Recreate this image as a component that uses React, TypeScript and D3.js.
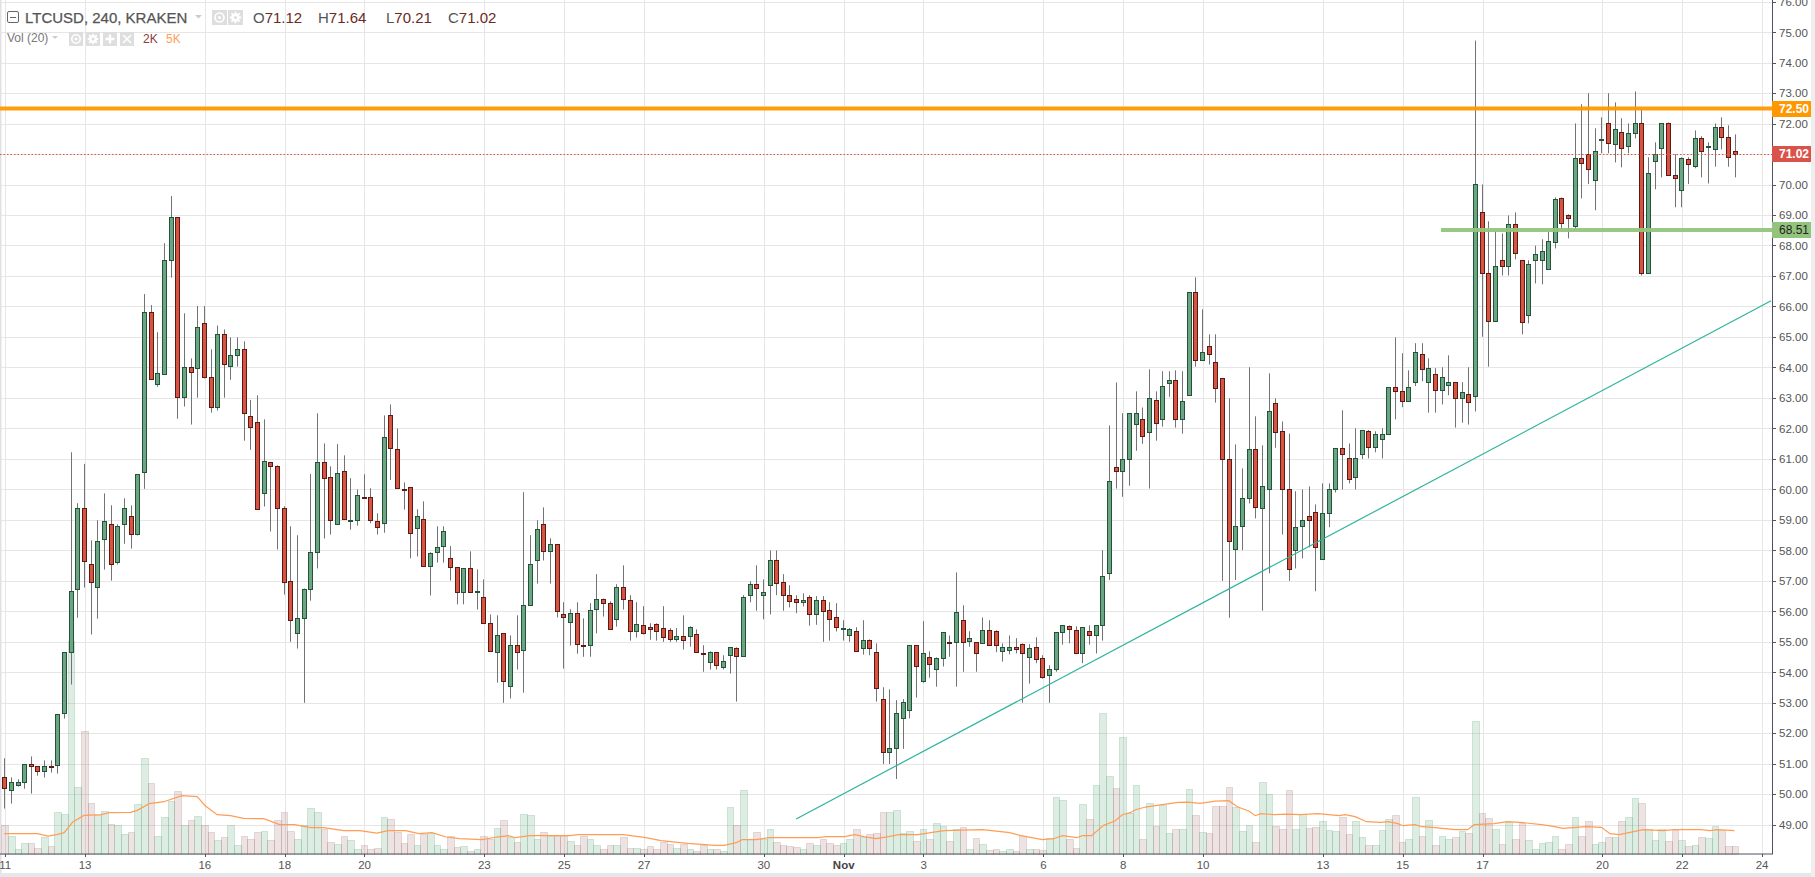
import React from 'react';
import * as d3 from 'd3';

// Candle bodies, wicks and direction (price in USD), one entry per 4h bar.
const bodyTops = [
50.55,50.39,50.39,50.98,50.98,50.92,50.92,50.92,52.62,54.66,
56.66,59.38,59.38,57.54,58.30,58.96,58.86,58.79,59.38,59.12,
60.50,65.81,65.81,63.81,67.52,68.93,68.93,64.01,64.01,65.32,
65.45,63.68,65.09,65.09,64.40,64.60,64.60,62.40,62.20,60.92,
60.89,60.76,59.38,56.99,55.77,56.75,57.94,60.89,60.89,60.40,
60.53,60.60,59.01,59.81,59.76,59.74,58.95,61.71,62.43,61.32,
60.02,60.07,59.12,59.02,57.90,58.10,58.63,57.74,57.45,57.41,
57.41,56.68,56.46,55.61,55.21,55.28,54.89,54.89,56.20,57.54,
58.69,58.86,58.20,58.20,55.90,55.94,55.94,54.90,56.03,56.40,
56.40,56.27,56.79,56.79,56.36,55.58,55.54,55.48,55.58,55.45,
55.38,55.18,55.18,55.48,55.25,54.64,54.66,54.66,54.36,54.82,
54.79,56.46,56.89,56.89,56.63,57.68,57.68,56.95,56.53,56.40,
56.36,56.46,56.36,56.36,56.03,55.80,55.45,55.41,55.35,55.05,
55.05,54.66,53.11,51.51,52.65,53.02,54.89,54.89,54.62,54.51,
54.46,55.31,54.99,55.97,55.71,55.12,54.98,55.38,55.38,55.35,
54.82,54.82,54.82,54.92,54.79,54.82,54.46,54.10,55.31,55.54,
55.51,55.38,55.48,55.35,55.54,57.15,60.27,60.73,60.99,62.50,
62.50,62.30,62.99,62.92,63.38,63.58,63.58,62.89,66.47,66.47,
64.50,64.70,64.17,63.65,60.99,58.79,59.71,61.32,61.32,60.10,
62.56,62.83,61.91,60.00,58.76,58.99,59.12,59.25,59.22,60.00,
61.35,61.35,61.02,61.02,61.94,61.91,61.81,61.81,63.35,63.35,
63.22,63.35,64.50,64.43,63.98,63.78,63.68,63.52,63.52,63.19,
63.12,70.01,69.12,67.09,67.32,67.52,68.70,68.70,67.52,67.39,
67.71,67.81,68.14,69.52,69.58,68.99,70.86,70.86,71.00,71.09,
71.50,72.01,71.82,71.72,71.68,72.01,72.01,70.37,71.00,72.01,
72.01,70.31,70.86,70.83,71.52,71.52,71.28,71.88,71.88,71.55,71.12];

const bodyBottoms = [
50.22,50.13,50.30,50.39,50.92,50.75,50.75,50.90,50.95,52.65,
54.66,56.72,57.64,56.95,56.79,58.36,57.54,57.61,58.86,58.53,
58.53,60.56,63.61,63.45,63.78,67.52,63.02,63.02,63.84,63.97,
63.68,62.70,62.70,64.11,64.04,64.40,62.50,62.04,59.35,59.87,
60.76,59.38,56.97,55.71,55.30,55.77,56.75,57.94,60.37,58.99,
58.86,59.02,58.99,58.99,59.72,58.99,58.76,58.89,61.35,60.04,
59.98,58.56,58.73,57.48,57.48,57.94,58.14,57.45,56.63,56.63,
56.63,56.66,55.61,54.69,54.66,53.71,53.54,54.66,54.72,56.20,
57.68,57.97,57.97,56.00,55.80,55.64,54.92,54.88,54.89,56.07,
56.27,55.41,55.74,56.40,55.35,55.35,55.28,55.41,55.35,55.15,
55.09,55.09,55.05,55.18,54.66,54.63,54.33,54.23,54.17,54.56,
54.53,54.53,56.53,56.76,56.53,56.86,56.92,56.53,56.33,56.30,
56.30,55.90,55.90,56.00,55.74,55.48,55.44,55.21,54.69,54.79,
54.79,53.48,51.38,51.38,51.51,52.49,52.75,54.20,53.70,54.26,
54.10,54.46,54.98,54.98,54.98,55.02,54.62,54.95,54.89,54.89,
54.69,54.72,54.75,54.62,54.49,54.43,53.86,53.90,54.10,55.31,
55.41,54.62,54.62,55.21,55.21,55.54,57.25,60.59,60.59,60.99,
62.14,61.74,61.87,62.17,62.30,63.48,62.30,62.30,63.09,64.24,
64.24,64.43,63.32,60.99,58.30,58.04,58.79,59.71,59.41,59.38,
60.00,61.87,60.00,57.38,58.00,58.79,58.99,58.10,57.71,59.22,
60.00,61.15,60.35,60.40,61.15,61.38,61.38,61.65,61.81,63.22,
62.89,62.89,63.52,63.94,63.52,63.25,63.25,63.42,62.99,62.99,
62.86,63.06,67.09,65.52,65.52,67.32,67.32,67.75,65.48,65.71,
67.52,67.52,67.25,68.11,68.73,68.90,68.63,70.70,70.50,70.17,
71.49,71.36,71.32,71.22,71.26,71.68,67.09,67.09,70.77,71.19,
70.31,70.21,69.81,70.67,70.63,71.09,71.26,71.16,71.55,70.90,71.02];

const highs = [
51.18,50.55,50.49,50.98,51.24,50.92,51.11,51.11,52.62,54.66,
61.22,59.55,60.84,58.33,58.99,59.87,59.48,58.86,59.71,59.48,
60.50,66.41,66.05,65.16,68.08,69.63,68.93,65.78,64.30,66.02,
66.02,64.60,65.38,65.25,64.99,64.99,64.86,62.94,63.09,62.30,
60.89,60.79,59.45,58.79,58.50,56.75,60.51,62.50,61.51,60.76,
61.49,61.12,60.37,60.00,60.50,60.04,59.22,62.43,62.79,62.00,
60.23,60.07,59.35,59.61,57.94,58.79,58.79,58.14,57.45,57.41,
57.97,57.38,57.05,55.90,55.87,55.28,55.21,55.87,59.91,58.50,
58.99,59.41,58.40,58.20,56.30,56.07,56.30,55.77,56.27,57.22,
56.42,56.33,56.89,57.51,56.53,56.30,56.17,55.61,55.61,56.17,
55.45,55.45,55.87,55.51,55.41,54.89,54.69,54.66,54.56,54.82,
54.82,56.53,56.99,57.51,57.05,58.00,58.00,57.22,56.86,56.53,
56.59,56.53,56.50,56.50,56.30,56.27,55.71,55.45,55.48,55.71,
55.08,54.95,53.51,53.44,53.09,53.12,54.89,54.89,55.68,54.69,
54.49,55.31,55.21,57.28,56.20,55.35,54.98,55.80,55.71,55.38,
54.95,55.21,55.12,54.95,54.92,55.15,54.56,54.23,55.31,55.54,
55.54,55.51,55.48,55.54,55.54,58.01,62.10,63.51,62.50,62.50,
63.22,62.69,63.94,63.22,63.88,63.88,63.91,63.88,66.47,66.96,
65.91,65.09,65.09,63.65,62.99,61.48,60.69,64.01,62.40,61.45,
63.81,62.99,62.23,61.83,59.94,60.00,60.10,59.51,60.20,60.20,
61.35,62.60,61.51,62.01,61.94,61.95,61.91,62.01,63.35,64.99,
64.47,63.91,64.80,64.80,64.30,63.98,64.01,64.40,63.52,63.52,
64.01,74.73,70.01,68.80,68.50,68.40,68.99,69.09,67.52,67.52,
68.00,68.21,68.50,69.58,69.58,69.03,72.01,72.64,73.00,71.85,
72.21,73.00,72.70,72.18,72.01,73.06,72.50,70.90,71.39,72.01,
72.04,71.00,70.90,70.90,71.78,71.59,71.39,72.01,72.21,71.95,71.65];

const lows = [
49.53,49.69,50.25,50.18,50.02,50.61,50.55,50.71,50.68,52.48,
53.60,55.79,56.78,55.24,55.76,57.37,57.01,57.54,58.22,58.06,
58.49,60.02,63.61,63.37,63.78,66.95,62.32,62.72,62.13,63.01,
63.64,62.52,62.59,63.01,63.60,64.03,61.60,61.30,59.35,59.44,
58.62,58.03,56.55,55.00,54.78,53.00,56.35,57.41,58.39,58.52,
58.86,59.02,58.68,58.81,59.72,58.89,58.52,58.58,60.31,60.04,
59.34,57.74,57.80,57.48,56.52,57.60,57.60,57.01,56.23,56.23,
56.63,56.06,55.61,54.69,53.66,53.00,53.14,54.09,53.33,56.20,
56.91,57.67,56.91,55.80,54.12,54.88,54.61,54.51,54.51,55.28,
55.83,55.41,55.50,56.06,55.04,55.14,55.24,55.07,55.04,55.00,
55.00,55.00,54.75,54.84,54.66,54.02,54.09,54.09,54.09,53.96,
53.04,54.53,56.30,56.02,55.74,55.90,56.53,56.02,56.13,55.94,
56.16,55.53,55.56,55.00,55.04,55.34,55.04,55.00,54.69,54.58,
54.56,53.04,50.99,50.99,50.50,51.49,52.49,53.17,53.66,53.82,
53.53,54.19,54.51,53.53,54.02,54.84,54.02,54.95,54.89,54.66,
54.35,54.59,54.62,53.00,53.63,54.30,53.79,53.00,54.02,54.91,
54.95,54.62,54.30,54.91,54.62,55.04,57.03,60.03,59.76,60.12,
61.27,61.50,60.03,61.60,62.06,63.04,62.03,61.83,63.09,64.03,
64.24,64.10,62.85,57.00,55.79,57.03,58.01,59.54,59.05,56.02,
57.25,61.37,58.52,57.00,57.41,57.74,58.10,56.66,57.71,58.76,
59.90,60.00,60.20,60.00,61.00,61.02,61.22,61.02,61.81,62.30,
62.70,62.89,63.39,63.55,62.52,62.52,62.79,63.09,62.03,62.19,
62.13,62.56,65.01,64.03,65.52,67.02,67.02,67.55,65.09,65.45,
66.76,66.73,67.25,67.91,68.50,68.24,68.52,69.55,70.02,69.16,
71.03,71.03,70.73,70.57,71.03,71.52,67.02,67.09,69.85,70.24,
70.31,69.26,69.26,70.02,70.54,70.24,70.04,70.59,71.16,70.59,70.24];

const directions = 'rgggrrgrgg' + 'ggrrggrggr' + 'ggrgggrgrg' + 'rrgrggrrrg' + 'rrrrggggrr' + 'grggrrrgrr' +
  'rrgrgggrrg' + 'rgrrgrgrgg' + 'grgrrgrrgg' + 'rrgrrgrrrr' + 'rgrgrrgrgg' + 'rggrggrrrr' + 'grgrrrggrg' +
  'rrrggggrgr' + 'ggrgrgrgrr' + 'ggrrgrrggg' + 'rrgrgggrgg' + 'grgrggrggr' + 'grrrrgggrg' + 'grrrggrrgg' +
  'grrggrgggr' + 'rggrgrggrg' + 'rgrrgrgrrg' + 'ggggrrgrrg' + 'grgrggrggg' + 'rrgrgrggrrr';

// Volume per bar, in lots of about 72 coins.
const volumes = [
87,52,15,33,33,18,49,22,124,120,
639,201,369,153,117,129,90,85,60,66,
150,288,213,54,109,159,189,87,102,112,
85,66,42,49,87,27,52,45,64,69,
40,102,126,69,45,87,138,126,73,36,
30,52,42,13,27,15,18,109,105,64,
33,60,27,60,62,27,13,52,19,24,
7,15,52,45,78,102,49,36,120,117,
45,66,52,54,54,39,27,52,45,27,
15,27,27,49,18,18,15,22,13,34,
28,18,28,13,7,25,13,15,7,141,
87,192,45,66,45,73,36,27,22,19,
15,33,27,43,33,27,33,43,75,50,
60,63,126,126,132,63,69,39,75,45,
93,82,39,75,79,15,48,30,12,15,
9,15,9,54,15,15,12,48,171,162,
43,18,150,105,207,423,234,198,351,123,
207,45,153,82,145,63,73,73,195,117,
66,63,144,144,201,141,69,87,36,216,
180,84,75,192,75,118,78,81,99,72,
69,111,60,99,51,27,27,72,105,117,
36,45,171,54,102,27,54,45,51,69,
63,399,123,108,75,30,96,45,93,42,
15,33,36,54,15,30,111,54,99,30,
36,51,51,99,111,168,153,75,42,75,
39,72,42,24,27,51,48,84,72,22,22];

// Vol moving-average line, read at its visible vertices.
const maBars = [0,5,6.6,8,9,10.3,12,14.6,15.8,19,20,21.8,24,26.7,29,30.2,32,34,36,39,41.3,43.6,46,48,51,53.4,56,57.7,60.3,62.3,64.3,66.4,68.4,71.8,74,75.8,76.8,79,85,86.2,89.5,93,96.2,98.7,102.7,106.8,108.2,110,110.9,113,114.8,122.3,123.5,126.3,127.8,129.2,131,132.9,134.4,137.3,140.2,141.3,143.9,147,151.1,152.8,156,157.7,159,161.2,162,163.4,165.2,166.9,168,169.2,170,171.5,174,176.4,177.8,179.7,182,184,185.3,187,188,188.8,190.9,192.7,194.7,197.4,200.6,201.5,203,204.7,206.8,208,209.4,210.2,212,213,215,218,219.9,220.9,223.9,225.9,228.3,231,233,234.2,237.7,240,241.3,242.7,246.3,249.2,251,255,256.3,257.4,260];
const maValues = [60,60,53,58,63,95,115,117,123,124,130,150,156,174,171,144,117,114,106,105,88,87,78,78,69,69,62,69,69,60,63,50,45,42,50,54,48,54,54,57,57,57,49,39,31,25,25,33,42,42,48,48,51,51,57,51,45,51,57,57,66,69,71,72,63,54,42,45,54,48,54,54,85,98,117,123,132,140,147,154,155,151,158,159,141,128,114,120,117,119,117,120,114,117,111,96,94,96,90,84,87,81,78,72,72,87,90,96,93,87,81,76,81,79,60,57,72,69,72,72,69,72,69];

const priceTicks = d3.range(49, 77);
const dayBars = [0,12,30,42,54,72,84,96,114,126,138,156,168,180,198,210,222,240,252,264];
const dayLabels = ['11','13','16','18','20','23','25','27','30','Nov','3','6','8','10','13','15','17','20','22','24'];

const trendBars = [119, 265.5];
const trendPrices = [49.19, 66.19];
const resistanceLevel = 72.5;
const supportLevel = 68.51;
const supportStartBar = 215.9;
const lastPrice = 71.02;

const W = 1815, H = 877;
const axisX = 1772, axisY = 854;
const FONT = '"Liberation Sans", Arial, sans-serif';

const x = d3.scaleLinear().domain([0, 260]).range([4.2, 1734.5]);
const y = d3.scaleLinear().domain([70, 49]).range([184.7, 824.7]);
const vy = d3.scaleLinear().domain([0, 639]).range([853.7, 640.7]);

const GREEN = { fill: '#6ba583', line: '#225437' };
const RED = { fill: '#d75442', line: '#5b1a13' };
const snap = (v: number) => Math.round(v) + 0.5;

const Square = ({ px, py, size, kind }: { px: number; py: number; size: number; kind: string }) => {
  const c = size / 2;
  return (
    <g transform={`translate(${px},${py})`}>
      <rect width={size} height={size} fill="#dedede" />
      {kind === 'eye' && <><circle cx={c} cy={c} r={size * 0.3} fill="none" stroke="#fff" strokeWidth={1.6} /><circle cx={c} cy={c} r={1.5} fill="#fff" /></>}
      {kind === 'gear' && <><circle cx={c} cy={c} r={size * 0.28} fill="#fff" /><path d={`M${c} ${c - size * 0.38}V${c + size * 0.38}M${c - size * 0.38} ${c}H${c + size * 0.38}M${c - size * 0.27} ${c - size * 0.27}L${c + size * 0.27} ${c + size * 0.27}M${c + size * 0.27} ${c - size * 0.27}L${c - size * 0.27} ${c + size * 0.27}`} stroke="#fff" strokeWidth={1.8} /><circle cx={c} cy={c} r={1.6} fill="#dedede" /></>}
      {kind === 'plus' && <path d={`M${c} ${c - 4.5}V${c + 4.5}M${c - 4.5} ${c}H${c + 4.5}`} stroke="#fff" strokeWidth={2.4} />}
      {kind === 'x' && <path d={`M${c - 4} ${c - 4}L${c + 4} ${c + 4}M${c + 4} ${c - 4}L${c - 4} ${c + 4}`} stroke="#fff" strokeWidth={1.6} />}
    </g>
  );
};

const PriceTag = ({ value, bg, fg, top, h, weight }: { value: number; bg: string; fg: string; top: number; h: number; weight: number }) => (
  <g>
    <rect x={axisX} y={top} width={39} height={h} fill={bg} />
    <text x={1779} y={top + h / 2 + 4.2} fontSize={12} fontWeight={weight} fill={fg} fontFamily={FONT}>{value.toFixed(2)}</text>
  </g>
);

export default function App() {
  const maLine = d3.line<number>().x((_, i) => x(maBars[i])).y(d => vy(d)).curve(d3.curveLinear)(maValues) as string;
  const trend = d3.line<number>().x((_, i) => x(trendBars[i])).y(d => y(d))(trendPrices) as string;

  return (
    <svg width={W} height={H} viewBox={`0 0 ${W} ${H}`} style={{ position: 'absolute', left: 0, top: 0, display: 'block', background: '#fff' }}>
      {/* page chrome */}
      <rect x={0} y={0} width={1.5} height={H} fill="#dfe1e6" />
      <rect x={0} y={873} width={W} height={4} fill="#e6e7ea" />
      <rect x={1811} y={0} width={4} height={H} fill="#eeeeee" />

      {/* grid */}
      <g stroke="#e6e6e6" strokeWidth={1}>
        {priceTicks.map(p => <line key={p} x1={1.5} x2={axisX} y1={snap(y(p) - 0.2)} y2={snap(y(p) - 0.2)} />)}
        {dayBars.map(b => <line key={b} x1={Math.round(x(b) + 0.9) + 0.5} x2={Math.round(x(b) + 0.9) + 0.5} y1={0} y2={axisY} />)}
      </g>

      {/* volume */}
      <g>
        {volumes.map((v, i) => {
          const up = directions[i] === 'g';
          const left = Math.round(x(i) - 3);
          const right = Math.round(x(i + 1) - 3);
          const top = Math.round(vy(v));
          return (
            <rect key={i} x={left + 0.5} y={top + 0.5} width={right - left} height={Math.max(0, axisY - top)}
              fill={up ? 'rgba(107,175,131,0.22)' : 'rgba(130,60,60,0.14)'}
              stroke={up ? 'rgba(107,175,131,0.28)' : 'rgba(130,60,60,0.16)'} strokeWidth={1} />
          );
        })}
      </g>
      <path d={maLine} fill="none" stroke="#ff9d55" strokeWidth={1.2} />

      {/* candles */}
      <g>
        {bodyTops.map((t, i) => {
          const c = directions[i] === 'g' ? GREEN : RED;
          const cx = Math.round(x(i));
          const top = Math.round(y(t));
          const bot = Math.round(y(bodyBottoms[i]));
          return (
            <g key={i}>
              <line x1={cx + 0.5} x2={cx + 0.5} y1={y(highs[i])} y2={y(lows[i])} stroke="#737375" strokeWidth={1} />
              <rect x={cx - 1.5} y={top + 0.5} width={4} height={Math.max(1, bot - top)} fill={c.fill} stroke={c.line} strokeWidth={1} />
            </g>
          );
        })}
      </g>

      {/* drawings */}
      <path d={trend} fill="none" stroke="#2eb39b" strokeWidth={1.2} />
      <line x1={0} x2={axisX} y1={y(resistanceLevel)} y2={y(resistanceLevel)} stroke="#ff9800" strokeWidth={4} strokeOpacity={0.95} />
      <line x1={x(supportStartBar)} x2={axisX} y1={y(supportLevel)} y2={y(supportLevel)} stroke="#93c47d" strokeOpacity={0.95} strokeWidth={4} />
      <line x1={0} x2={axisX} y1={snap(y(lastPrice))} y2={snap(y(lastPrice))} stroke="#d75442" strokeWidth={1} strokeDasharray="1.5 2" />

      {/* axes */}
      <line x1={axisX + 0.5} x2={axisX + 0.5} y1={0} y2={axisY} stroke="#50535e" strokeWidth={1} />
      <line x1={0} x2={axisX + 1} y1={axisY} y2={axisY} stroke="#50535e" strokeWidth={1} />
      {priceTicks.map(p => (
        <g key={p}>
          <line x1={axisX} x2={axisX + 4} y1={snap(y(p) - 0.2)} y2={snap(y(p) - 0.2)} stroke="#50535e" />
          <text x={1779} y={y(p) + 4.2} fontSize={11.5} fill="#555" fontFamily={FONT}>{p.toFixed(2)}</text>
        </g>
      ))}
      {dayBars.map((b, i) => (
        <g key={b}>
          <line x1={Math.round(x(b) + 0.9) + 0.5} x2={Math.round(x(b) + 0.9) + 0.5} y1={axisY} y2={axisY + 3} stroke="#50535e" />
          <text x={x(b) + 1} y={869} textAnchor="middle" fontSize={11.5} fill={dayLabels[i] === 'Nov' ? '#444' : '#555'} fontWeight={dayLabels[i] === 'Nov' ? 700 : 400} fontFamily={FONT}>{dayLabels[i]}</text>
        </g>
      ))}

      {/* price tags */}
      <PriceTag value={resistanceLevel} bg="#ff9800" fg="#fff" top={101} h={16} weight={700} />
      <PriceTag value={lastPrice} bg="#d9534a" fg="#fff" top={146} h={16} weight={700} />
      <PriceTag value={supportLevel} bg="#93c47d" fg="#222" top={222} h={16} weight={400} />

      {/* legend */}
      <rect x={7.5} y={11.5} width={11} height={11} rx={1.5} fill="none" stroke="#666" />
      <line x1={10} x2={16} y1={17.5} y2={17.5} stroke="#666" />
      <text x={25} y={23} fontSize={15} fontWeight={500} fill="#555" stroke="#555" strokeWidth={0.25} fontFamily={FONT}>LTCUSD, 240, KRAKEN</text>
      <path d="M195 15h7l-3.5 3.5z" fill="#ccc" />
      <Square px={212} py={10} size={15} kind="eye" />
      <Square px={228} py={10} size={15} kind="gear" />
      {[['O', '71.12', 253], ['H', '71.64', 318], ['L', '70.21', 386], ['C', '71.02', 448]].map(([k, v, px]) => (
        <text key={k as string} x={px as number} y={23} fontSize={15} fontFamily={FONT}>
          <tspan fill="#555">{k}</tspan><tspan fill="#6b2a22">{v}</tspan>
        </text>
      ))}
      <text x={7} y={42} fontSize={12} fill="#777" fontFamily={FONT}>Vol (20)</text>
      <path d="M52 36h6l-3 3z" fill="#ccc" />
      <Square px={69} py={32} size={14} kind="eye" />
      <Square px={86} py={32} size={14} kind="gear" />
      <Square px={103} py={32} size={14} kind="plus" />
      <Square px={120} py={32} size={14} kind="x" />
      <text x={143} y={42.5} fontSize={12} fill="#8a3d3d" fontFamily={FONT}>2K</text>
      <text x={166} y={42.5} fontSize={12} fill="#ff9d55" fontFamily={FONT}>5K</text>
    </svg>
  );
}
